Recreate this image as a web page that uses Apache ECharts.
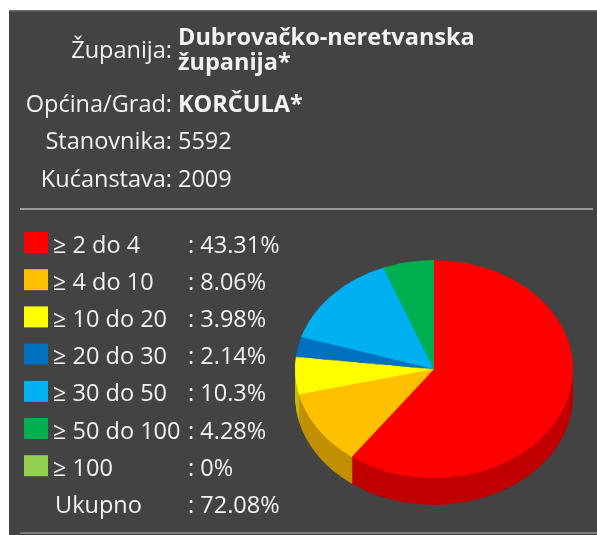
<!DOCTYPE html>
<html>
<head>
<meta charset="utf-8">
<script src="https://cdn.jsdelivr.net/npm/echarts@6/dist/echarts.min.js"></script>
<style>
    html, body { margin: 0; padding: 0; background: #fff; }
    #main { position: absolute; left: 0; top: 0; width: 597px; height: 535px; }
    /* pie is drawn round, then squashed into an ellipse */
    #pie { position: absolute; left: 284px; top: 228px; width: 300px; height: 360px;
           transform: scaleY(0.784); transform-origin: 0 0; }
</style>
</head>
<body>
<div id="main"></div>
<div id="pie"></div>
<script>
// podaci
const infoLabels = ['Županija:', 'Općina/Grad:', 'Stanovnika:', 'Kućanstava:'];
const infoValues = [['Dubrovačko-neretvanska', 'županija*'], ['KORČULA*'], ['5592'], ['2009']];
const infoBold = [true, true, false, false];
const categories = ['≥ 2 do 4', '≥ 4 do 10', '≥ 10 do 20', '≥ 20 do 30', '≥ 30 do 50', '≥ 50 do 100', '≥ 100'];
const shares = [43.31, 8.06, 3.98, 2.14, 10.3, 4.28, 0];
const totalLabel = 'Ukupno';
const totalShare = 72.08;
const colors = ['#ff0000', '#ffc000', '#ffff00', '#0070c0', '#00b0f0', '#00b050', '#92d050'];
const sideColors = ['#c00000', '#c09000', '#bfbf00', '#00548f', '#0084b4', '#00843c', '#6e9c3c'];

const FONT = '"Open Sans", sans-serif';
const FS = 23.5;
const TXT = '#f2f2f2';
const ASC = 19; // baseline ispod vrha teksta

// ---- tekst i legenda ----
const main = echarts.init(document.getElementById('main'), null, { renderer: 'canvas' });
const g = [];
function txt(x, base, s, opts) {
    opts = opts || {};
    g.push({ type: 'text', style: { x: x, y: base - ASC, text: s, align: opts.align || 'left', verticalAlign: 'top',
        font: (opts.bold ? 'bold ' : '') + FS + 'px ' + FONT, fill: TXT } });
}
g.push({ type: 'rect', shape: { x: 9, y: 10, width: 588, height: 525 }, style: { fill: '#434343' } });
g.push({ type: 'rect', shape: { x: 9, y: 10, width: 588, height: 1.5 }, style: { fill: '#6c6c6c' } });
g.push({ type: 'rect', shape: { x: 20, y: 208, width: 573, height: 2 }, style: { fill: '#9a9a9a' } });
g.push({ type: 'rect', shape: { x: 20, y: 532, width: 577, height: 2 }, style: { fill: '#7a7a7a' } });

const labelBase = [58, 112, 149, 187];
const valueBase = [[45, 70], [112], [149], [187]];
infoLabels.forEach((lab, i) => {
    txt(172, labelBase[i], lab, { align: 'right' });
    infoValues[i].forEach((v, j) => txt(178, valueBase[i][j], v, { bold: infoBold[i] }));
});

const rowStep = 37.2;
categories.forEach((c, i) => {
    const base = 253 + i * rowStep;
    g.push({ type: 'rect', shape: { x: 24, y: base - 21, width: 24, height: 21 }, style: { fill: colors[i] } });
    txt(53, base, c);
    txt(188, base, ': ' + shares[i] + '%');
});
const totBase = 253 + categories.length * rowStep;
txt(55, totBase, totalLabel);
txt(188, totBase, ': ' + totalShare + '%');

main.setOption({ animation: false, graphic: { elements: g } });

// ---- pita ----
const pie = echarts.init(document.getElementById('pie'));
const depth = 34;
const series = [];
function pieLayer(dy, cols) {
    return {
        type: 'pie', radius: 139, center: [150, 180 + dy], startAngle: 90, clockwise: true,
        silent: true, label: { show: false }, labelLine: { show: false },
        itemStyle: { borderWidth: 0 },
        data: categories.map((c, i) => ({ name: c, value: shares[i], itemStyle: { color: cols[i] } }))
    };
}
// bocna strana - slojevi od dna prema gore
for (let dy = depth; dy > 0; dy -= 2) series.push(pieLayer(dy, sideColors));
series.push(pieLayer(0, colors));
pie.setOption({ animation: false, series: series });
</script>
</body>
</html>
